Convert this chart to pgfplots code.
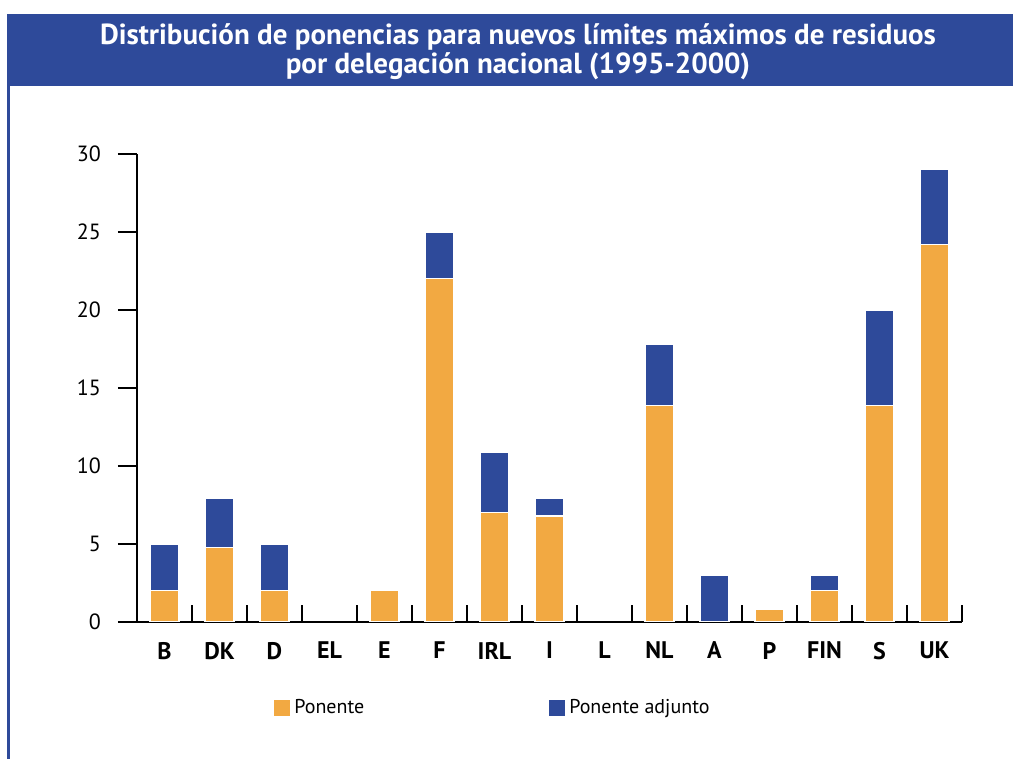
\documentclass[border=0pt]{standalone}
\usepackage{fontspec}
\setmainfont{PT Sans}
\usepackage{pgfplots}
\pgfplotsset{compat=1.18}
\definecolor{cblue}{RGB}{46,74,154}
\definecolor{corange}{RGB}{242,169,66}
\begin{document}
\begin{tikzpicture}
\useasboundingbox (0,0) rectangle (506.5pt,379.5pt);
\fill[cblue] (3.6pt,336.5pt) rectangle (506.5pt,372.5pt);
\fill[cblue] (3.6pt,0) rectangle (4.9pt,336.6pt);
\node[text=white, font=\bfseries\fontsize{14.5}{14.5}\selectfont, align=center] at (259pt,353.5pt) {Distribución de ponencias para nuevos límites máximos de residuos\\por delegación nacional (1995-2000)};
\begin{axis}[
  at={(68.5pt,68.5pt)}, anchor=south west,
  scale only axis, width=412.5pt, height=234pt,
  xmin=-0.5, xmax=14.5, ymin=0, ymax=30,
  ybar stacked, bar width=14.5pt,
  axis x line*=bottom, axis y line*=left,
  axis line style={-, line width=0.7pt, black},
  /pgf/number format/assume math mode=true,
  ytick={0,5,...,30},
  tick align=outside, major tick length=9.5pt,
  ytick style={line width=0.7pt, black},
  xtick={0,...,14},
  xticklabels={B,DK,D,EL,E,F,IRL,I,L,NL,A,P,FIN,S,UK},
  xtick style={draw=none},
  extra x ticks={0.5,1.5,...,14.5},
  extra x tick labels={},
  extra x tick style={tick align=inside, major tick length=8.5pt, xtick style={draw=black, line width=0.7pt}},
  x tick label style={font=\bfseries\fontsize{12}{14}\selectfont, yshift=3pt},
  y tick label style={font=\fontsize{11}{12}\selectfont, xshift=-5pt},
  legend columns=2,
  legend image code/.code={\fill[#1, draw=none] (0pt,-4pt) rectangle (8pt,4pt);},
  legend style={draw=none, at={(0.166,-0.184)}, anchor=west, inner sep=0pt,
    font=\fontsize{10}{12}\selectfont,
    /tikz/every even column/.append style={column sep=90.5pt}},
]
\addplot[fill=corange, draw=white, line width=0.6pt] coordinates {
 (0,2) (1,4.8) (2,2) (3,0) (4,2) (5,22) (6,7) (7,6.8) (8,0) (9,13.9) (10,0) (11,0.8) (12,2) (13,13.9) (14,24.2)};
\addplot[fill=cblue, draw=white, line width=0.6pt] coordinates {
 (0,3) (1,3.15) (2,3) (3,0) (4,0) (5,3) (6,3.9) (7,1.1) (8,0) (9,3.9) (10,3) (11,0) (12,1) (13,6.1) (14,4.8)};
\legend{Ponente, Ponente adjunto}
\end{axis}
\end{tikzpicture}
\end{document}
